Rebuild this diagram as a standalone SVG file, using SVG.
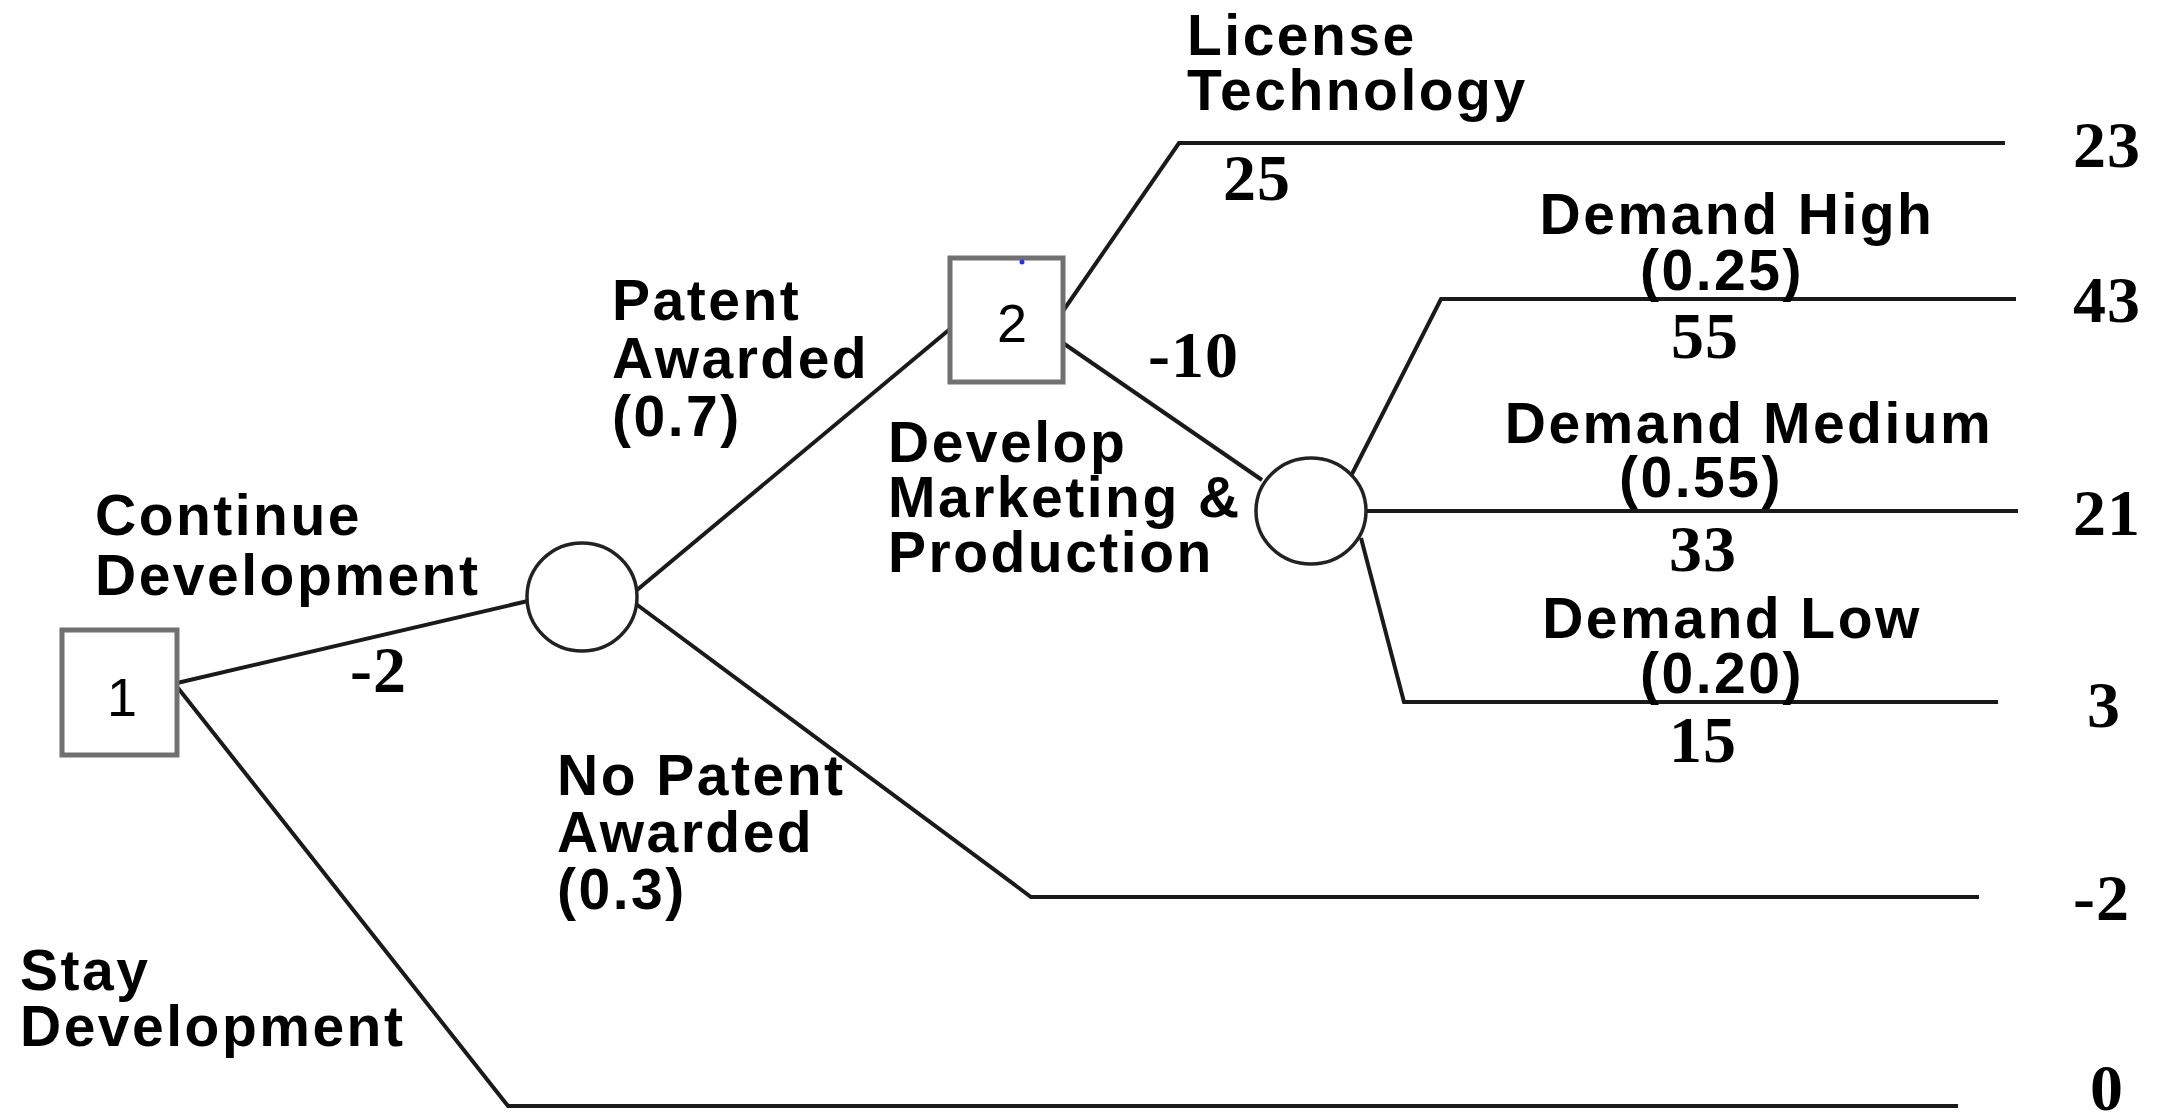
<svg xmlns="http://www.w3.org/2000/svg" width="2160" height="1114" viewBox="0 0 2160 1114">
<style>
.lbl{font-family:"Liberation Sans",Arial,sans-serif;font-weight:bold;font-size:57px;letter-spacing:2.5px;fill:#000}
.num{font-family:"Liberation Serif","Times New Roman",serif;font-weight:bold;font-size:66px;letter-spacing:1px;fill:#000}
.id{font-family:"Liberation Sans",Arial,sans-serif;font-size:54px;fill:#000}
.mid{text-anchor:middle}
.box{fill:#fff;stroke:#707070;stroke-width:5}
.chance{fill:#fff;stroke:#222;stroke-width:3.5}
.edge{fill:none;stroke:#1a1a1a;stroke-width:4;stroke-linejoin:miter}
</style>
<rect width="2160" height="1114" fill="#fff"/>
<g id="connectors">
  <polyline class="edge" points="177,683 528,601"/>
  <polyline class="edge" points="178,688 508,1106 1958,1106"/>
  <polyline class="edge" points="636,604 1031,897 1979,897"/>
  <polyline class="edge" points="637,590 950,329"/>
  <polyline class="edge" points="1063,311 1179,143 2005,143"/>
  <polyline class="edge" points="1063,343 1262,480"/>
  <polyline class="edge" points="1352,474 1441,299 2016,299"/>
  <polyline class="edge" points="1366,511 2018,511"/>
  <polyline class="edge" points="1361,538 1404,702 1998,702"/>
</g>
<g id="node-decision-1">
  <rect class="box" x="62" y="630" width="115" height="125"/>
  <text class="id mid" x="122" y="716">1</text>
</g>
<g id="node-chance-patent">
  <ellipse class="chance" cx="582" cy="597" rx="55" ry="54"/>
</g>
<g id="node-decision-2">
  <rect class="box" x="950" y="258" width="113" height="124"/>
  <circle cx="1022" cy="262" r="2.5" fill="#2233ff"/>
  <text class="id mid" x="1012" y="342">2</text>
</g>
<g id="node-chance-demand">
  <ellipse class="chance" cx="1311" cy="511" rx="55" ry="53"/>
</g>
<g id="labels">
  <text class="lbl" x="95" y="535">Continue</text>
  <text class="lbl" x="95" y="595">Development</text>
  <text class="num" x="350" y="692">-2</text>
  <text class="lbl" x="20" y="990">Stay</text>
  <text class="lbl" x="20" y="1046">Development</text>
  <text class="lbl" x="612" y="320">Patent</text>
  <text class="lbl" x="612" y="378">Awarded</text>
  <text class="lbl" x="612" y="436">(0.7)</text>
  <text class="lbl" x="557" y="795">No Patent</text>
  <text class="lbl" x="557" y="852">Awarded</text>
  <text class="lbl" x="557" y="909">(0.3)</text>
  <text class="lbl" x="1187" y="55">License</text>
  <text class="lbl" x="1187" y="110">Technology</text>
  <text class="num" x="1223" y="200">25</text>
  <text class="num" x="1148" y="377">-10</text>
  <text class="lbl" x="888" y="462">Develop</text>
  <text class="lbl" x="888" y="517">Marketing &amp;</text>
  <text class="lbl" x="888" y="572">Production</text>
  <text class="lbl mid" x="1737" y="234">Demand High</text>
  <text class="lbl mid" x="1722" y="290">(0.25)</text>
  <text class="num mid" x="1705" y="358">55</text>
  <text class="lbl mid" x="1749" y="443">Demand Medium</text>
  <text class="lbl mid" x="1701" y="497">(0.55)</text>
  <text class="num mid" x="1703" y="571">33</text>
  <text class="lbl mid" x="1732" y="638">Demand Low</text>
  <text class="lbl mid" x="1722" y="693">(0.20)</text>
  <text class="num mid" x="1703" y="762">15</text>
  <text class="num" x="2073" y="167">23</text>
  <text class="num" x="2073" y="322">43</text>
  <text class="num" x="2073" y="535">21</text>
  <text class="num" x="2087" y="727">3</text>
  <text class="num" x="2073" y="920">-2</text>
  <text class="num" x="2090" y="1110">0</text>
</g>
</svg>
